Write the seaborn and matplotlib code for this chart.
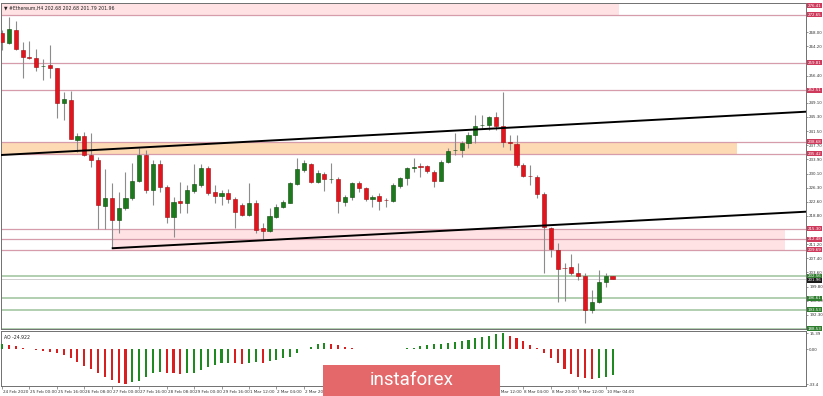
import numpy as np
import pandas as pd
import matplotlib
matplotlib.use("Agg")
import matplotlib.pyplot as plt
import matplotlib.transforms as mtransforms
from matplotlib.patches import Rectangle
import seaborn as sns

# ---------------- data ----------------
opens = [267.73, 265.21, 268.62, 263.25, 261.30, 261.03, 258.90, 259.23, 258.35, 249.12,
         249.85, 239.12, 240.27, 235.10, 233.76, 221.42, 223.65, 217.67, 220.80, 223.48,
         228.20, 235.10, 225.71, 232.68, 226.60, 218.55, 222.76, 222.14, 225.52, 227.05,
         231.61, 225.09, 224.10, 224.82, 223.22, 221.69, 219.01, 222.30, 215.44, 214.72,
         218.55, 221.07, 222.30, 227.32, 231.07, 232.60, 227.94, 230.00, 228.58, 228.66,
         222.57, 223.91, 227.67, 226.33, 223.22, 224.10, 223.03, 222.84, 226.78, 228.85,
         231.53, 232.15, 232.15, 230.62, 228.20, 233.30, 236.35, 236.44, 238.39, 240.46,
         243.06, 243.14, 245.20, 242.95, 238.66, 238.05, 232.41, 229.54, 229.28, 224.64,
         215.44, 209.62, 204.75, 204.98, 203.37, 202.73, 193.53, 195.76, 200.96, 202.68]
highs = [268.62, 272.02, 271.11, 265.40, 265.75, 263.52, 260.76, 264.51, 258.40, 252.07,
         252.34, 240.92, 241.34, 240.92, 234.64, 231.26, 227.51, 225.25, 230.62, 232.87,
         236.89, 236.44, 233.76, 233.76, 227.05, 223.91, 227.86, 227.05, 232.60, 232.60,
         232.15, 227.05, 225.71, 225.90, 223.91, 222.22, 227.51, 223.03, 216.94, 220.80,
         221.95, 223.03, 227.94, 234.21, 233.76, 232.87, 231.07, 230.62, 232.87, 229.28,
         224.37, 227.94, 228.20, 226.60, 224.37, 224.82, 223.48, 227.51, 229.28, 231.96,
         234.21, 232.87, 232.42, 231.07, 233.76, 236.89, 241.08, 238.93, 241.34, 245.82,
         245.82, 245.55, 246.71, 252.07, 240.46, 240.46, 233.03, 232.41, 229.73, 225.25,
         215.87, 211.42, 206.05, 208.55, 206.05, 203.37, 198.89, 204.26, 203.53, 202.68]
lows = [263.25, 264.78, 263.25, 255.66, 260.84, 257.62, 255.13, 255.66, 244.94, 244.48,
        239.30, 235.98, 234.90, 231.96, 215.17, 215.17, 210.08, 214.18, 220.35, 223.03,
        227.94, 224.82, 221.69, 225.25, 216.78, 213.19, 219.62, 219.62, 224.82, 226.60,
        224.37, 222.14, 221.69, 222.14, 215.60, 218.74, 218.74, 214.10, 212.30, 214.53,
        218.20, 220.80, 222.14, 227.05, 230.62, 227.51, 227.67, 225.52, 227.51, 219.62,
        221.42, 223.03, 225.25, 222.84, 221.23, 220.35, 221.23, 222.57, 226.17, 227.05,
        230.62, 229.28, 230.19, 226.43, 228.00, 233.03, 235.10, 234.64, 236.89, 238.39,
        242.22, 241.80, 241.80, 237.32, 236.44, 231.80, 229.28, 227.05, 223.48, 203.37,
        207.82, 195.76, 196.02, 202.91, 201.58, 190.12, 192.64, 195.32, 199.61, 201.79]
closes = [265.48, 268.80, 263.44, 261.30, 261.22, 258.78, 259.00, 258.35, 248.96, 250.03,
          239.39, 240.27, 235.10, 233.76, 221.69, 223.65, 217.67, 220.80, 223.48, 228.20,
          235.10, 225.71, 232.68, 226.60, 218.55, 222.57, 222.14, 225.71, 227.24, 231.53,
          224.99, 224.10, 224.82, 223.22, 219.89, 219.01, 222.30, 214.98, 214.72, 218.74,
          221.23, 222.57, 227.51, 231.26, 232.87, 227.94, 230.19, 228.58, 228.66, 222.76,
          223.91, 227.67, 226.17, 223.22, 223.91, 222.84, 222.95, 226.97, 228.85, 231.53,
          231.80, 231.80, 230.89, 228.20, 233.30, 236.25, 236.44, 238.39, 240.46, 242.87,
          243.22, 245.20, 242.95, 238.66, 238.23, 232.41, 229.54, 229.38, 224.64, 215.71,
          209.81, 204.52, 204.70, 203.37, 202.73, 193.53, 195.76, 200.96, 202.73, 201.96]

ao_values = [5.1, 4.1, 3.2, 1.0, 0.3, -0.3, -1.6, -2.9, -3.8, -5.7,
             -8.6, -12.4, -15.9, -18.8, -23.0, -26.2, -29.3, -32.0, -33.4, -31.6,
             -30.0, -26.2, -23.0, -21.7, -22.3, -23.0, -23.6, -23.0, -22.3, -19.8,
             -16.6, -14.7, -13.0, -12.7, -13.4, -14.0, -12.8, -11.8, -12.8, -10.8,
             -10.2, -8.6, -7.0, -3.2, 0.3, 2.6, 5.1, 5.9, 5.5, 4.1,
             1.9, 0.8, 0.6, 0.4, 0.3, 0.2, 0.3, 0.4, 0.6, 1.0,
             1.6, 3.2, 4.1, 4.8, 5.1, 5.7, 6.7, 7.7, 8.9, 10.5,
             12.1, 12.8, 14.2, 15.39, 12.8, 10.5, 8.0, 4.1, 1.0, -3.8,
             -8.6, -13.4, -19.1, -23.6, -26.2, -27.8, -28.0, -27.5, -26.5, -24.922]

time_tick_bars = [0, 4, 8, 12, 16, 20, 24, 28, 32, 36, 40, 44, 48, 52, 56, 60, 64, 68, 72, 76, 80, 84, 88]
time_tick_labels = ["24 Feb 2020", "25 Feb 00:00", "25 Feb 16:00", "26 Feb 08:00", "27 Feb 00:00",
                    "27 Feb 16:00", "28 Feb 08:00", "29 Feb 00:00", "29 Feb 16:00", "1 Mar 12:00",
                    "2 Mar 04:00", "2 Mar 20:00", "3 Mar 12:00", "4 Mar 04:00", "4 Mar 20:00",
                    "5 Mar 12:00", "6 Mar 04:00", "6 Mar 20:00", "7 Mar 12:00", "8 Mar 04:00",
                    "8 Mar 20:00", "9 Mar 12:00", "10 Mar 04:00"]

price_ticks = [268.00, 264.20, 256.40, 249.10, 245.30, 241.50, 237.70, 233.90, 230.10,
               226.30, 222.60, 218.80, 211.20, 207.40, 203.60, 199.80, 196.00, 192.30]

resistance_levels = [276.41, 272.65, 259.81, 252.51, 238.68, 235.42, 215.30, 212.48, 209.69]
support_levels = [202.56, 196.61, 193.53, 188.53]
current_price = 201.96

# zones: (low, high, first bar, last bar)
zone_top = (272.65, 276.41, -0.2, 89.9)
zone_orange = (235.42, 238.68, -0.2, 107.1)
zone_low = (209.69, 215.30, 16.0, 114.1)

# trend lines: two anchor points (bar, price)
upper_trend = [(0, 235.1), (100, 245.0)]
lower_trend = [(16, 210.08), (100, 218.22)]

ao_ticks = [15.39, 0.0, -33.4]
ao_tick_labels = ["15.39", "0.00", "-33.4"]
title_text = "\u25bc #Ethereum,H4 202.68 202.68 201.79 201.96"
ao_title = "AO -24.922"

# ---------------- style ----------------
sns.set_theme(style="white")
plt.rcParams["font.family"] = ["DejaVu Sans"]

RED = "#E3141B"
RED_EDGE = "#9E0C10"
GREEN = "#1C7A1C"
GREEN_EDGE = "#0B4A0B"
WICK = "#8C8C8C"
LEVEL = "#D79CAB"
SUPPORT = "#9CC29C"
LABEL_RED = "#CE3A5C"
LABEL_GREEN = "#2E7D2E"
SPINE = "#707070"
FS = 2.9
FSX = 3.0

W, H = 823, 396
fig = plt.figure(figsize=(W / 100, H / 100), dpi=100)
fig.patch.set_facecolor("white")

ax = fig.add_axes([1 / W, 1 - 329 / H, 805 / W, (329 - 3.5) / H])
ax2 = fig.add_axes([1 / W, 1 - 386 / H, 805 / W, (386 - 331) / H])

n = len(closes)
df = pd.DataFrame({"bar": np.arange(n), "open": opens, "high": highs, "low": lows, "close": closes})
df["up"] = df["close"] >= df["open"]

xlim = (-0.146, 117.2)
ylim = (188.43, 275.72)

# zones
for lo, hi, b0, b1 in [zone_top, zone_orange, zone_low]:
    col = "#FDD9B4" if (lo, hi) == zone_orange[:2] else "#FFE3E4"
    ax.fill_between([b0, b1], lo, hi, color=col, lw=0, zorder=1)

for lvl in resistance_levels:
    ax.axhline(lvl, color=LEVEL, lw=0.9, zorder=2)
for lvl in support_levels:
    ax.axhline(lvl, color=SUPPORT, lw=1.1, zorder=2)
ax.axhline(current_price, color="#C8C8C8", lw=0.6, zorder=2)

# trend lines
ax.axline(upper_trend[0], upper_trend[1], color="black", lw=1.4, zorder=5)
(lx0, ly0), (lx1, ly1) = lower_trend
slope = (ly1 - ly0) / (lx1 - lx0)
ax.plot([lx0, xlim[1]], [ly0, ly0 + slope * (xlim[1] - lx0)], color="black", lw=1.4, zorder=5,
        solid_capstyle="butt")

# candles
ax.vlines(df["bar"], df["low"], df["high"], color=WICK, lw=0.8, zorder=3)
body_h = (df["close"] - df["open"]).to_numpy()
ax.bar(df["bar"], body_h, bottom=df["open"], width=0.6,
       color=np.where(df["up"], GREEN, RED),
       edgecolor=np.where(df["up"], GREEN_EDGE, RED_EDGE), linewidth=0.4, zorder=4)

ax.set_xlim(*xlim)
ax.set_ylim(*ylim)
ax.set_xticks([])
ax.yaxis.tick_right()
ax.set_yticks(price_ticks)
ax.set_yticklabels([f"{v:.2f}" for v in price_ticks])
ax.tick_params(axis="y", right=True, length=1.5, width=0.5, pad=0.8, labelsize=FS,
               labelcolor="#333333", color=SPINE)
for sp in ax.spines.values():
    sp.set_color(SPINE)
    sp.set_linewidth(0.7)

# right-side price labels
tr = mtransforms.blended_transform_factory(ax.transAxes, ax.transData)
box = dict(boxstyle="square,pad=0.12", ec="none")
for lvl in resistance_levels:
    ypos = min(lvl, ylim[1] - 0.6)
    ax.text(1.002, ypos, f"{lvl:.2f}", transform=tr, fontsize=FS, color="white", va="center", ha="left",
            bbox=dict(box, fc=LABEL_RED), clip_on=False, zorder=8)
for lvl in support_levels:
    ax.text(1.002, lvl, f"{lvl:.2f}", transform=tr, fontsize=FS, color="white", va="center", ha="left",
            bbox=dict(box, fc=LABEL_GREEN), clip_on=False, zorder=8)
ax.text(1.002, current_price - 0.5, f"{current_price:.2f}", transform=tr, fontsize=FS, color="white",
        va="center", ha="left", bbox=dict(box, fc="#1A1A1A"), clip_on=False, zorder=9)

ax.text(0.004, 0.993, title_text, transform=ax.transAxes, fontsize=3.3, color="#222222",
        va="top", ha="left", zorder=9)

# ---------------- AO panel ----------------
ao_df = pd.DataFrame({"bar": np.arange(n), "ao": ao_values})
ao_df["dir"] = np.where(ao_df["ao"].diff().fillna(1.0) >= 0, "up", "down")
sns.barplot(data=ao_df, x="bar", y="ao", hue="dir", palette={"up": "#1F8A1F", "down": "#D81E1E"},
            native_scale=True, width=0.3, dodge=False, legend=False, errorbar=None,
            saturation=1, linewidth=0, ax=ax2, zorder=3)
ax2.set_xlim(*xlim)
ax2.set_ylim(-35.1, 17.5)
ax2.set_xlabel("")
ax2.set_ylabel("")
ax2.yaxis.tick_right()
ax2.set_yticks(ao_ticks)
ax2.set_yticklabels(ao_tick_labels)
ax2.set_xticks(time_tick_bars)
ax2.set_xticklabels(time_tick_labels, ha="left")
ax2.tick_params(axis="y", right=True, length=1.5, width=0.5, pad=0.8, labelsize=FS,
                labelcolor="#333333", color=SPINE)
ax2.tick_params(axis="x", bottom=True, length=2, width=0.5, pad=1.2, labelsize=FSX,
                labelcolor="#333333", color=SPINE, direction="out")
for lbl in ax2.get_xticklabels():
    lbl.set_transform(lbl.get_transform() + mtransforms.ScaledTranslation(1.0 / 100, 0, fig.dpi_scale_trans))
for sp in ax2.spines.values():
    sp.set_color(SPINE)
    sp.set_linewidth(0.7)
ax2.text(0.004, 0.93, ao_title, transform=ax2.transAxes, fontsize=3.3, color="#222222",
         va="top", ha="left")

# ---------------- watermark ----------------
fig.add_artist(Rectangle((323 / W, 0), 177 / W, 31 / H, transform=fig.transFigure,
                         facecolor="#E4686A", edgecolor="none", zorder=10))
fig.text(411.5 / W, 1 - 380 / H, "instaforex", color="white", fontsize=13.5, family="Roboto",
         ha="center", va="center", zorder=11)

fig.savefig("out.png", dpi=100, facecolor="white")
